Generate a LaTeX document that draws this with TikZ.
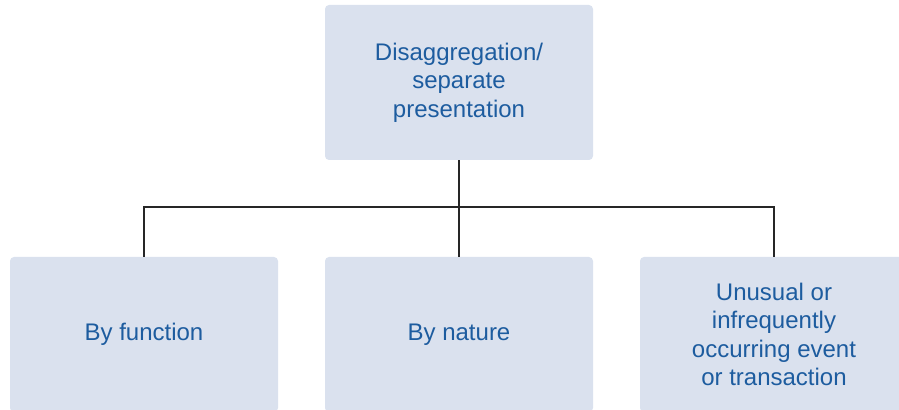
\documentclass[tikz,border=0pt]{standalone}
\usepackage{fontspec}
\setmainfont{Liberation Sans}
\usepackage{tikz}
\definecolor{boxfill}{HTML}{DAE1EE}
\definecolor{boxtext}{HTML}{1D5C9F}

\begin{document}
\begin{tikzpicture}[x=0.5pt,y=0.5pt]
				\tikzstyle{every node}=[fill=boxfill,text=boxtext,rounded corners=2pt,
				minimum width=134pt,minimum height=77.5pt,align=center,
				font=\fontsize{12}{14.25}\selectfont,inner sep=0pt]
				\tikzstyle{link}=[draw=black!85,line width=0.75pt]
				\useasboundingbox (0,0) rectangle (899,410);
				\node (disagg) at (459,327.5) {Disaggregation/\\separate\\presentation};
				\node (function) at (144,75.5) {By function};
				\node (nature) at (459,75.5) {By nature};
				\node (unusual) at (774,75.5) {Unusual or\\infrequently\\occurring event\\or transaction};
				\coordinate (bus) at (459,203);
				\draw[link] (disagg) -- (bus);
				\draw[link] (function.north) |- (bus) -| (unusual.north);
				\draw[link] (bus) -- (nature);
\end{tikzpicture}
\end{document}
